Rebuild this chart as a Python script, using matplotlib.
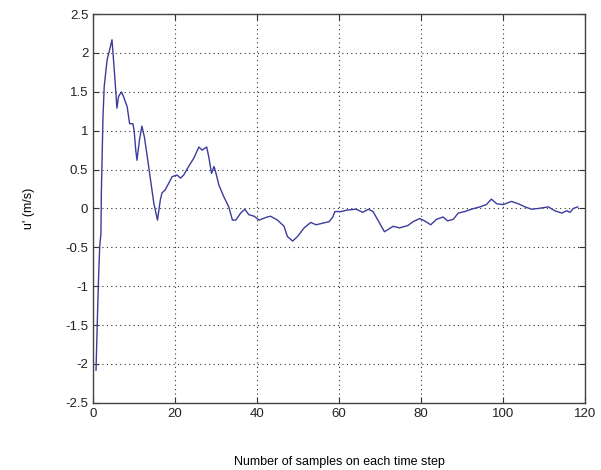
import numpy as np
import matplotlib
matplotlib.use('Agg')
import matplotlib.pyplot as plt

# convergence of u' with number of samples
samples = [0.7, 1.05, 1.3, 1.6, 1.9, 2.0, 2.4, 2.7, 3.4, 4.2, 4.6, 5.2, 5.8, 6.2, 6.9,
           7.4, 8.3, 8.9, 9.7, 10.0, 10.4, 10.7, 11.3, 11.9, 12.5, 13.2, 14.0, 14.8,
           15.7, 16.4, 16.8, 17.6, 18.4, 19.3, 20.5, 21.3, 22.1, 23.3, 24.6, 25.8,
           26.6, 27.7, 28.2, 28.9, 29.5, 29.9, 30.7, 31.9, 33.1, 34.0, 34.8, 36.0,
           37.0, 38.0, 39.3, 40.5, 42.5, 43.3, 45.0, 46.6, 47.4, 48.7, 49.9, 51.5,
           53.1, 54.4, 56.0, 57.6, 58.5, 59.0, 60.5, 62.1, 64.2, 65.8, 67.2, 68.3,
           69.5, 71.1, 73.2, 74.8, 76.8, 78.1, 79.7, 80.9, 82.4, 83.8, 85.4, 86.5,
           87.9, 89.1, 90.7, 92.3, 94.4, 96.0, 97.2, 98.5, 100.1, 102.1, 103.8,
           105.4, 107.0, 108.7, 111.1, 112.7, 114.4, 115.6, 116.4, 117.2, 118.3]
u_prime = [-2.08, -1.39, -0.92, -0.49, -0.32, 0.2, 1.18, 1.57, 1.91, 2.08, 2.17, 1.75,
           1.29, 1.44, 1.5, 1.44, 1.31, 1.09, 1.09, 1.0, 0.75, 0.62, 0.88, 1.06,
           0.92, 0.67, 0.37, 0.07, -0.15, 0.11, 0.2, 0.24, 0.32, 0.41, 0.43, 0.39,
           0.43, 0.54, 0.65, 0.79, 0.75, 0.79, 0.67, 0.45, 0.54, 0.47, 0.3, 0.15,
           0.02, -0.15, -0.15, -0.06, -0.01, -0.08, -0.1, -0.15, -0.11, -0.1, -0.15,
           -0.23, -0.36, -0.42, -0.36, -0.25, -0.18, -0.21, -0.19, -0.17, -0.11,
           -0.04, -0.04, -0.02, -0.01, -0.05, -0.01, -0.04, -0.15, -0.3, -0.23,
           -0.25, -0.22, -0.17, -0.13, -0.16, -0.21, -0.14, -0.11, -0.16, -0.14,
           -0.06, -0.04, -0.01, 0.02, 0.05, 0.12, 0.06, 0.05, 0.09, 0.06, 0.02,
           -0.01, 0.0, 0.02, -0.03, -0.06, -0.03, -0.05, 0.0, 0.02]

xticks = [0, 20, 40, 60, 80, 100, 120]
yticks = [-2.5, -2, -1.5, -1, -0.5, 0, 0.5, 1, 1.5, 2, 2.5]

plt.rcParams['font.family'] = ['Liberation Sans', 'DejaVu Sans']

fig = plt.figure(figsize=(6.01, 4.70), dpi=100)
ax = fig.add_axes([0.155, 0.143, 0.818, 0.827])

ax.plot(samples, u_prime, color='#3c3c9c', lw=1.0)

ax.set_xlim(0, 120)
ax.set_ylim(-2.5, 2.5)
ax.set_xticks(xticks)
ax.set_yticks(yticks)
ax.set_yticklabels([('%g' % v) for v in yticks])
ax.grid(True, color='#333333', linestyle=(0, (1, 3)), linewidth=0.8)
ax.tick_params(direction='in', top=True, right=True, length=4,
               labelsize=9.5, colors='#333333', labelcolor='#222222')
for s in ax.spines.values():
    s.set_color('#444444')
    s.set_linewidth(1.0)

ax.set_xlabel('Number of samples on each time step', fontsize=9, labelpad=26)
ax.set_ylabel("u' (m/s)", fontsize=9, labelpad=22)

fig.savefig('out.png', dpi=100)
